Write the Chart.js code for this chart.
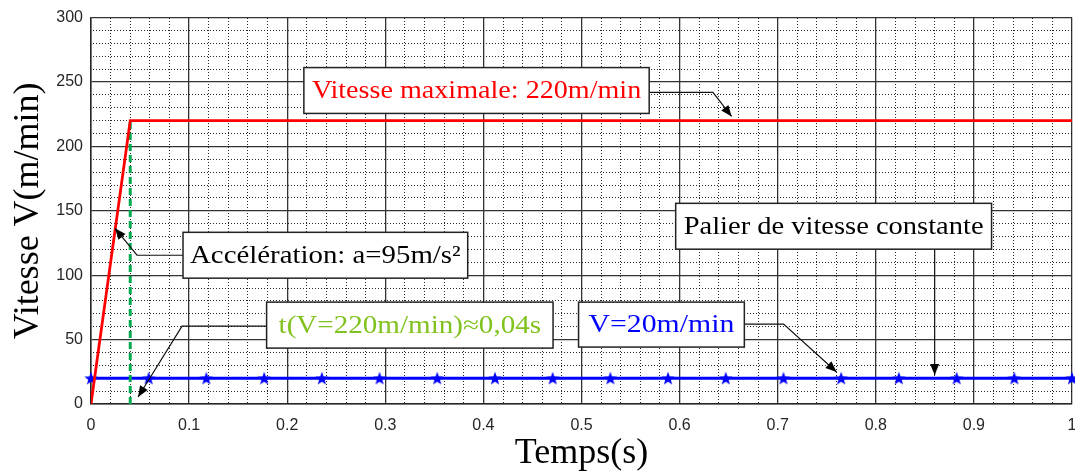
<!DOCTYPE html>
<html>
<head>
<meta charset="utf-8">
<script src="https://cdn.jsdelivr.net/npm/chart.js@4.4.1/dist/chart.umd.min.js"></script>
<style>
html, body { margin: 0; padding: 0; background: #fff; }
#wrap { width: 1075px; height: 473px; }
</style>
</head>
<body>
<div id="wrap"><canvas id="vitesseChart"></canvas></div>
<script>
// rampe d'accélération puis palier à 220 m/min
const rampeTemps = [0, 0.04, 1];
const rampeVitesse = [0, 220, 220];

// repère vertical t = 0,04 s
const repereTemps = [0.04, 0.04];
const repereVitesse = [0, 220];

// vitesse constante 20 m/min (marqueurs étoile)
const constTemps = [0, 0.0588, 0.1176, 0.1765, 0.2353, 0.2941, 0.3529, 0.4118, 0.4706,
                    0.5294, 0.5882, 0.6471, 0.7059, 0.7647, 0.8235, 0.8824, 0.9412, 1];
const constVitesse = [20, 20, 20, 20, 20, 20, 20, 20, 20, 20, 20, 20, 20, 20, 20, 20, 20, 20];

const xTickLabels = ['0', '0.1', '0.2', '0.3', '0.4', '0.5', '0.6', '0.7', '0.8', '0.9', '1'];
const yTickLabels = ['0', '50', '100', '150', '200', '250', '300'];

// annotations (coordonnées en unités des axes)
const notes = [
    { text: 'Vitesse maximale: 220m/min', color: '#ff0000', box: [0.217, 0.569, 261.2, 225.6], pad: 8,
      arrow: [[0.569, 241.9], [0.634, 241.9], [0.653, 223.3]] },
    { text: 'Accélération: a=95m/s²', color: '#000000', box: [0.0938, 0.384, 133.3, 97.7], pad: 7,
      arrow: [[0.0938, 115.5], [0.0469, 115.5], [0.0245, 136.4]] },
    { text: 't(V=220m/min)≈0,04s', color: 'rgb(128,194,30)', box: [0.179, 0.471, 79.1, 43.4], pad: 12,
      arrow: [[0.179, 60.5], [0.0928, 60.5], [0.048, 5.4]] },
    { text: 'V=20m/min', color: '#0000ff', box: [0.497, 0.666, 79.1, 44.2], pad: 10,
      arrow: [[0.666, 62], [0.706, 62], [0.760, 24.8]] },
    { text: 'Palier de vitesse constante', color: '#000000', box: [0.596, 0.918, 155.8, 120.2], pad: 8,
      arrow: [[0.860, 120.2], [0.860, 22.5]] }
];

const toPoints = (xs, ys) => xs.map((x, i) => ({ x: x, y: ys[i] }));

const canvas = document.getElementById('vitesseChart');
const ctx2d = canvas.getContext('2d');

// étoile pleine (pentagramme) pour les marqueurs
const star = document.createElement('canvas');
star.width = 14; star.height = 14;
(function () {
    const c = star.getContext('2d');
    c.fillStyle = '#0000ff';
    c.beginPath();
    for (let k = 0; k < 10; k++) {
        const r = k % 2 === 0 ? 7 : 2.9;
        const a = -Math.PI / 2 + k * Math.PI / 5;
        const px = 7 + r * Math.cos(a), py = 7.6 + r * Math.sin(a);
        if (k === 0) c.moveTo(px, py); else c.lineTo(px, py);
    }
    c.closePath();
    c.fill();
})();

// motifs pointillés pour la grille secondaire
function dots(w, h) {
    const t = document.createElement('canvas');
    t.width = w; t.height = h;
    const c = t.getContext('2d');
    c.fillStyle = 'rgba(0,0,0,0.85)';
    c.fillRect(0, 0, 1, 1);
    return ctx2d.createPattern(t, 'repeat');
}
const dotsV = dots(1, 3);
const dotsH = dots(3, 1);

const notesPlugin = {
    id: 'notes',
    afterDatasetsDraw(chart) {
        const ctx = chart.ctx;
        const xs = chart.scales.x, ys = chart.scales.y;
        notes.forEach(n => {
            const pts = n.arrow.map(p => [xs.getPixelForValue(p[0]), ys.getPixelForValue(p[1])]);
            ctx.save();
            ctx.strokeStyle = '#111';
            ctx.lineWidth = 1.2;
            ctx.beginPath();
            pts.forEach((p, i) => i === 0 ? ctx.moveTo(p[0], p[1]) : ctx.lineTo(p[0], p[1]));
            ctx.stroke();
            // pointe de flèche
            const a = pts[pts.length - 2], b = pts[pts.length - 1];
            const ang = Math.atan2(b[1] - a[1], b[0] - a[0]);
            ctx.fillStyle = '#000';
            ctx.beginPath();
            ctx.moveTo(b[0], b[1]);
            ctx.lineTo(b[0] - 11 * Math.cos(ang) + 4.5 * Math.sin(ang), b[1] - 11 * Math.sin(ang) - 4.5 * Math.cos(ang));
            ctx.lineTo(b[0] - 11 * Math.cos(ang) - 4.5 * Math.sin(ang), b[1] - 11 * Math.sin(ang) + 4.5 * Math.cos(ang));
            ctx.closePath();
            ctx.fill();

            const x1 = xs.getPixelForValue(n.box[0]), x2 = xs.getPixelForValue(n.box[1]);
            const y1 = ys.getPixelForValue(n.box[2]), y2 = ys.getPixelForValue(n.box[3]);
            ctx.fillStyle = '#fff';
            ctx.fillRect(x1, y1, x2 - x1, y2 - y1);
            ctx.strokeStyle = '#222';
            ctx.lineWidth = 1.5;
            ctx.strokeRect(x1, y1, x2 - x1, y2 - y1);

            ctx.font = '25px "Liberation Serif", "Times New Roman", serif';
            const w = ctx.measureText(n.text).width;
            const sx = ((x2 - x1) - 2 * n.pad) / w;
            ctx.translate((x1 + x2) / 2, (y1 + y2) / 2 + 1);
            ctx.scale(sx, 1);
            ctx.fillStyle = n.color;
            ctx.textAlign = 'center';
            ctx.textBaseline = 'middle';
            ctx.fillText(n.text, 0, 0);
            ctx.restore();
        });
    }
};

const tickFont = { family: '"Liberation Sans", Arial, sans-serif', size: 16 };
const titleFont = { family: '"Liberation Serif", "Times New Roman", serif', size: 36, lineHeight: 1.1 };

new Chart(canvas, {
    type: 'scatter',
    data: {
        datasets: [
            {
                data: toPoints(rampeTemps, rampeVitesse),
                showLine: true,
                borderColor: '#ff0000',
                borderWidth: 2.8,
                pointRadius: 0
            },
            {
                data: toPoints(repereTemps, repereVitesse),
                showLine: true,
                borderColor: 'rgb(0,168,80)',
                borderDash: [7, 4],
                borderWidth: 3,
                pointRadius: 0
            },
            {
                data: toPoints(constTemps, constVitesse),
                showLine: true,
                borderColor: '#0000ff',
                borderWidth: 3,
                pointStyle: star,
                pointRadius: 7,
                clip: false
            }
        ]
    },
    options: {
        responsive: true,
        maintainAspectRatio: false,
        animation: false,
        events: [],
        layout: { autoPadding: false, padding: { top: 17, right: 3, left: 0, bottom: 0 } },
        plugins: {
            legend: { display: false },
            tooltip: { enabled: false }
        },
        scales: {
            x: {
                type: 'linear',
                min: 0,
                max: 1,
                afterFit: s => { s.height = 69; s.paddingLeft = 0; s.paddingRight = 0; },
                ticks: {
                    stepSize: 0.02,
                    maxTicksLimit: 100,
                    autoSkip: false,
                    maxRotation: 0,
                    padding: 0,
                    color: '#262626',
                    font: tickFont,
                    callback: (v, i) => i % 5 === 0 ? xTickLabels[i / 5] : ''
                },
                grid: {
                    drawTicks: true,
                    tickLength: 12,
                    tickColor: 'rgba(0,0,0,0)',
                    color: c => c.index % 5 === 0 ? '#333' : dotsV,
                    lineWidth: c => c.index % 5 === 0 ? 1.3 : 1
                },
                border: { color: '#262626', width: 1.5 },
                title: {
                    display: true,
                    text: 'Temps(s)',
                    color: '#000',
                    font: titleFont,
                    padding: { top: 0, bottom: 0 }
                }
            },
            y: {
                min: 0,
                max: 300,
                afterFit: s => { s.width = 91; },
                ticks: {
                    stepSize: 10,
                    maxTicksLimit: 100,
                    autoSkip: false,
                    padding: 8,
                    color: '#262626',
                    font: tickFont,
                    callback: (v, i) => i % 5 === 0 ? yTickLabels[i / 5] : ''
                },
                grid: {
                    drawTicks: false,
                    color: c => c.index % 5 === 0 ? '#333' : dotsH,
                    lineWidth: c => c.index % 5 === 0 ? 1.3 : 1
                },
                border: { color: '#262626', width: 1.5 },
                title: {
                    display: true,
                    text: 'Vitesse V(m/min)',
                    color: '#000',
                    font: titleFont,
                    padding: { top: 9, bottom: 0 }
                }
            }
        }
    },
    plugins: [notesPlugin]
});
</script>
</body>
</html>
